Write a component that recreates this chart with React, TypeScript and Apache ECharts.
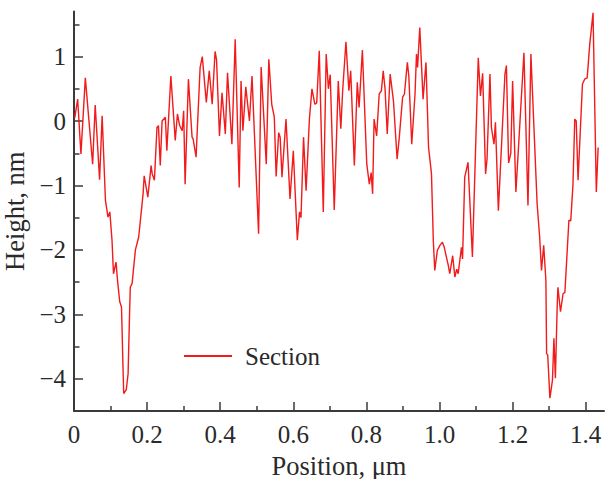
import React, { useEffect, useRef } from "react";
import * as echarts from "echarts";

// Position along the section, µm
const positions = [
  0.002, 0.010, 0.019, 0.031, 0.051, 0.058, 0.070, 0.077, 0.086, 0.093,
  0.098, 0.104, 0.108, 0.115, 0.119, 0.125, 0.130, 0.134, 0.136, 0.143,
  0.148, 0.152, 0.154, 0.159, 0.168, 0.177, 0.189, 0.192, 0.202, 0.211,
  0.214, 0.220, 0.227, 0.231, 0.236, 0.241, 0.250, 0.254, 0.265, 0.277,
  0.283, 0.289, 0.296, 0.300, 0.304, 0.313, 0.323, 0.326, 0.334, 0.345,
  0.351, 0.362, 0.370, 0.378, 0.386, 0.390, 0.398, 0.405, 0.414, 0.420,
  0.432, 0.441, 0.452, 0.457, 0.462, 0.470, 0.480, 0.487, 0.505, 0.512,
  0.526, 0.533, 0.541, 0.548, 0.553, 0.560, 0.564, 0.569, 0.580, 0.591,
  0.600, 0.611, 0.617, 0.621, 0.628, 0.635, 0.644, 0.651, 0.659, 0.664,
  0.671, 0.682, 0.690, 0.696, 0.701, 0.712, 0.723, 0.730, 0.735, 0.744,
  0.752, 0.757, 0.767, 0.775, 0.780, 0.789, 0.801, 0.808, 0.813, 0.817,
  0.821, 0.828, 0.835, 0.841, 0.846, 0.851, 0.857, 0.865, 0.874, 0.884,
  0.890, 0.899, 0.904, 0.912, 0.916, 0.924, 0.933, 0.937, 0.940, 0.946,
  0.955, 0.963, 0.970, 0.974, 0.978, 0.983, 0.987, 0.994, 1.001, 1.008,
  1.013, 1.018, 1.024, 1.028, 1.036, 1.042, 1.047, 1.051, 1.060, 1.063,
  1.069, 1.078, 1.090, 1.106, 1.112, 1.118, 1.126, 1.130, 1.138, 1.142,
  1.149, 1.153, 1.161, 1.179, 1.183, 1.189, 1.195, 1.200, 1.209, 1.231,
  1.242, 1.250, 1.267, 1.274, 1.279, 1.285, 1.291, 1.293, 1.296, 1.302,
  1.309, 1.313, 1.317, 1.322, 1.324, 1.331, 1.338, 1.343, 1.354, 1.359,
  1.365, 1.370, 1.374, 1.379, 1.391, 1.397, 1.404, 1.411, 1.420, 1.429,
  1.434,
];

// Height, nm
const heights = [
  0.05, 0.34, -0.51, 0.67, -0.67, 0.25, -0.91, 0.08, -1.23, -1.49,
  -1.41, -1.85, -2.37, -2.19, -2.47, -2.8, -2.89, -3.81, -4.23, -4.17,
  -3.92, -2.99, -2.58, -2.52, -2.0, -1.8, -1.13, -0.85, -1.18, -0.69,
  -0.82, -0.92, -0.1, -0.07, -0.69, 0.0, 0.06, -0.46, 0.7, -0.3,
  0.11, -0.07, -0.15, 0.16, -0.98, 0.65, -0.25, -0.28, -0.56, 0.83,
  1.0, 0.29, 0.78, 0.26, 1.08, 0.95, -0.23, 0.44, -0.2, 0.75,
  -0.36, 1.27, -1.03, 0.62, -0.15, 0.53, 0.0, 0.7, -1.75, 0.84,
  -0.67, 0.96, 0.26, 0.06, -0.86, -0.18, -0.25, -0.87, 0.03, -1.21,
  -0.46, -1.85, -1.41, -1.5, -0.25, -1.08, 0.03, 0.5, 0.26, 0.28,
  1.09, -1.41, 1.04, 0.5, 0.72, -1.38, 0.62, -0.12, 0.47, 1.23,
  0.47, 0.78, -0.69, 0.6, 0.21, 1.1, -0.67, -0.98, -0.8, -1.13,
  0.03, -0.23, 0.42, 0.47, 0.78, 0.5, -0.2, 0.73, 0.31, -0.59,
  -0.25, 0.37, 0.42, 0.91, 0.7, -0.36, 0.42, 1.04, 0.83, 1.45,
  0.34, 0.91, -0.41, -0.61, -0.82, -1.85, -2.32, -2.01, -1.93, -1.88,
  -1.96, -2.09, -2.24, -2.37, -2.09, -2.42, -2.3, -2.37, -1.96, -2.14,
  -0.87, -0.64, -2.11, 0.98, 0.39, 0.74, -0.82, -0.59, 0.73, -0.1,
  -0.36, -0.02, -1.39, 0.73, 0.86, -0.65, -0.5, 0.62, -1.1, 1.06,
  -1.31, 1.04, -1.28, -1.8, -2.32, -1.93, -2.47, -3.61, -3.63, -4.3,
  -4.02, -3.37, -3.99, -2.86, -2.58, -2.96, -2.68, -2.66, -1.54, -1.55,
  -1.0, 0.03, 0.0, -0.92, 0.57, 0.65, 0.67, 1.19, 1.68, -1.1,
  -0.41,
];

const xMajorTicks = [0, 0.2, 0.4, 0.6, 0.8, 1.0, 1.2, 1.4];
const xMinorTicks = [0.1, 0.3, 0.5, 0.7, 0.9, 1.1, 1.3];
const yMajorTicks = [-4, -3, -2, -1, 0, 1];
const yMinorTicks = [-3.5, -2.5, -1.5, -0.5, 0.5, 1.5];

const seriesName = "Section";
const xName = "Position, \u03bcm";
const yName = "Height, nm";

const FONT = "'Liberation Serif', 'Times New Roman', serif";
const FS = 25;
const NAME_FS = 26.5;
const AXIS_COLOR = "#3a3a3a";
const TEXT_COLOR = "#2a2a2a";

export default function App() {
  const ref = useRef<HTMLDivElement>(null);

  useEffect(() => {
    if (!ref.current) return;
    const chart = echarts.init(ref.current, undefined, { renderer: "svg" });
    const data = positions.map((p, i) => [p, heights[i]]);
    const xMin = 0, xMax = 1.45, yMin = -4.5, yMax = 1.7;

    chart.setOption({
      animation: false,
      backgroundColor: "#ffffff",
      grid: { left: 74, right: 1, top: 11.5, bottom: 68, containLabel: false, outerBoundsMode: "none" },
      legend: {
        left: 184,
        top: 343.5,
        padding: 0,
        data: [{ name: seriesName, icon: "rect" }],
        itemWidth: 48,
        itemHeight: 2,
        textStyle: { fontFamily: FONT, fontSize: FS, color: TEXT_COLOR, padding: [0, 0, 0, 8] },
      },
      xAxis: [
        {
          type: "value",
          min: xMin,
          max: xMax,
          name: xName,
          nameLocation: "middle",
          nameGap: 41,
          nameTextStyle: { fontFamily: FONT, fontSize: NAME_FS, color: TEXT_COLOR },
          axisLine: { show: true, onZero: false, lineStyle: { color: AXIS_COLOR, width: 2 } },
          axisTick: { show: true, inside: true, length: 9, customValues: xMajorTicks, lineStyle: { color: AXIS_COLOR, width: 1.5 } },
          axisLabel: {
            customValues: xMajorTicks,
            margin: 11,
            fontFamily: FONT,
            fontSize: FS,
            color: TEXT_COLOR,
            formatter: (v: number) => (v === 0 ? "0" : v.toFixed(1)),
          },
          splitLine: { show: false },
        },
        {
          type: "value",
          min: xMin,
          max: xMax,
          position: "bottom",
          axisLine: { show: false, onZero: false },
          axisTick: { show: true, inside: true, length: 5, customValues: xMinorTicks, lineStyle: { color: AXIS_COLOR, width: 1.5 } },
          axisLabel: { show: false },
          splitLine: { show: false },
        },
      ],
      yAxis: [
        {
          type: "value",
          min: yMin,
          max: yMax,
          name: yName,
          nameLocation: "middle",
          nameGap: 41,
          nameRotate: 90,
          nameTextStyle: { fontFamily: FONT, fontSize: NAME_FS, color: TEXT_COLOR },
          axisLine: { show: true, onZero: false, lineStyle: { color: AXIS_COLOR, width: 2 } },
          axisTick: { show: true, inside: true, length: 9, customValues: yMajorTicks, lineStyle: { color: AXIS_COLOR, width: 1.5 } },
          axisLabel: {
            customValues: yMajorTicks,
            margin: 8,
            fontFamily: FONT,
            fontSize: FS,
            color: TEXT_COLOR,
            formatter: (v: number) => (v < 0 ? "\u2212" + Math.abs(v) : String(v)),
          },
          splitLine: { show: false },
        },
        {
          type: "value",
          min: yMin,
          max: yMax,
          position: "left",
          axisLine: { show: false, onZero: false },
          axisTick: { show: true, inside: true, length: 5.5, customValues: yMinorTicks, lineStyle: { color: AXIS_COLOR, width: 1.5 } },
          axisLabel: { show: false },
          splitLine: { show: false },
        },
      ],
      series: [
        {
          name: seriesName,
          type: "line",
          data,
          showSymbol: false,
          symbol: "none",
          clip: false,
          lineStyle: { color: "#f21a1a", width: 1.4 },
          itemStyle: { color: "#f21a1a" },
          xAxisIndex: 0,
          yAxisIndex: 0,
        },
      ],
    });

    return () => chart.dispose();
  }, []);

  return (
    <div
      ref={ref}
      style={{ position: "fixed", left: 0, top: 0, width: 605, height: 479, background: "#fff" }}
    />
  );
}
